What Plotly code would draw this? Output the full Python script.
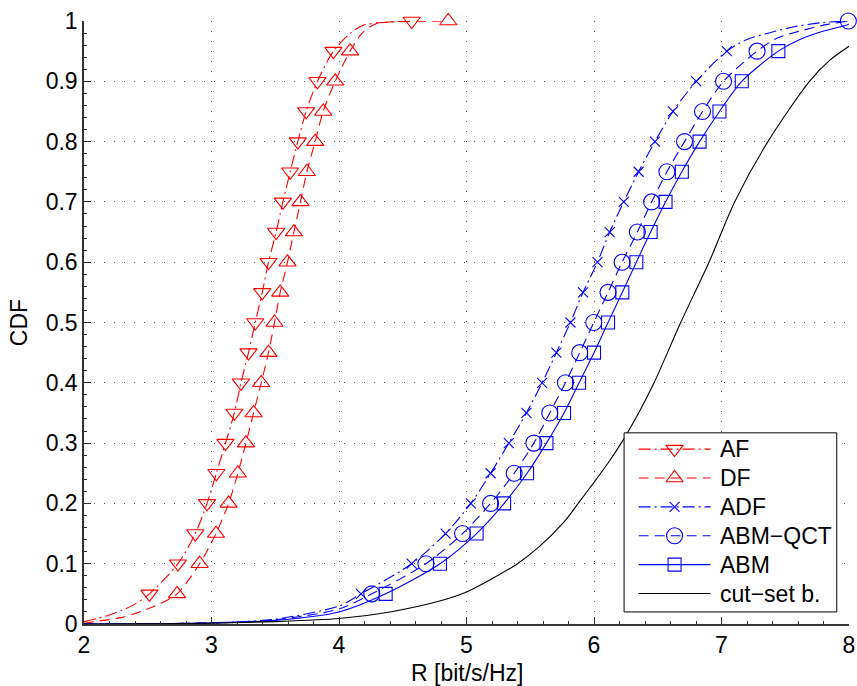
import plotly.graph_objects as go

# CDF levels at which the markers are drawn
levels = [0.05, 0.10, 0.15, 0.20, 0.25, 0.30, 0.35, 0.40, 0.45, 0.50,
          0.55, 0.60, 0.65, 0.70, 0.75, 0.80, 0.85, 0.90, 0.95, 1.00]

# Rate quantiles (bit/s/Hz) at those levels
af_x = [2.513, 2.737, 2.873, 2.965, 3.038, 3.110, 3.179, 3.231, 3.290, 3.343,
        3.398, 3.447, 3.507, 3.560, 3.617, 3.677, 3.742, 3.831, 3.956, 4.570]
df_x = [2.730, 2.907, 3.035, 3.134, 3.207, 3.270, 3.330, 3.390, 3.447, 3.494,
        3.539, 3.596, 3.646, 3.698, 3.748, 3.813, 3.876, 3.970, 4.087, 4.857]
adf_x = [4.173, 4.570, 4.836, 5.034, 5.189, 5.332, 5.470, 5.593, 5.705, 5.815,
         5.914, 6.027, 6.123, 6.233, 6.350, 6.478, 6.619, 6.802, 7.042]
qct_x = [4.257, 4.682, 4.969, 5.189, 5.374, 5.528, 5.653, 5.776, 5.888, 5.998,
         6.110, 6.220, 6.340, 6.452, 6.572, 6.710, 6.851, 7.016, 7.279, 7.995]
abm_x = [4.366, 4.792, 5.079, 5.295, 5.475, 5.627, 5.765, 5.883, 6.000, 6.110,
         6.222, 6.332, 6.444, 6.561, 6.689, 6.828, 6.984, 7.159, 7.446]

# Lower tails of each CDF (before the first marker)
af_tail_x = [2.0, 2.1, 2.2, 2.3, 2.4]
af_tail_y = [0.004, 0.009, 0.015, 0.023, 0.033]
df_tail_x = [2.0, 2.15, 2.3, 2.45, 2.6]
df_tail_y = [0.001, 0.006, 0.011, 0.021, 0.034]
adf_tail_x = [2.0, 2.5, 3.0, 3.5, 4.0]
adf_tail_y = [0.0, 0.0005, 0.002, 0.008, 0.030]
qct_tail_x = [2.0, 2.5, 3.0, 3.5, 4.0]
qct_tail_y = [0.0, 0.0004, 0.002, 0.007, 0.025]
abm_tail_x = [2.0, 2.5, 3.0, 3.5, 4.0]
abm_tail_y = [0.0, 0.0003, 0.0015, 0.006, 0.020]

# Upper tails (between the 0.95 marker and the end of the curve)
af_head_x = [4.09, 4.19, 4.375]
af_head_y = [0.980, 0.993, 0.998]
df_head_x = [4.19, 4.296, 4.48]
df_head_y = [0.982, 0.996, 0.999]
adf_head_x = [7.195, 7.35, 7.56, 7.77, 8.0]
adf_head_y = [0.969, 0.979, 0.990, 0.997, 1.0]
qct_head_x = [7.43, 7.61, 7.82]
qct_head_y = [0.971, 0.983, 0.994]
abm_head_x = [7.61, 7.795, 7.978, 8.0]
abm_head_y = [0.969, 0.983, 0.993, 0.995]

# Cut-set bound CDF
cut_x = [2.0, 2.5, 3.0, 3.5, 4.0, 4.4, 4.79, 5.0, 5.2, 5.4, 5.575, 5.76,
         5.876, 6.0, 6.12, 6.228, 6.35, 6.471, 6.68, 6.902, 7.103, 7.364,
         7.69, 7.85, 8.0]
cut_y = [0.0, 0.0005, 0.0015, 0.004, 0.009, 0.02, 0.038, 0.053, 0.075, 0.100,
         0.129, 0.168, 0.2, 0.235, 0.27, 0.305, 0.35, 0.4, 0.5, 0.6, 0.7, 0.8,
         0.9, 0.935, 0.958]

legend_names = ["AF", "DF", "ADF", "ABM\u2212QCT", "ABM", "cut\u2212set b."]

RED = "#ff0000"
BLUE = "#0000ff"
DASHDOT = "12px,4px,2px,4px"
DASHED = "10px,6px"
LW = 1.1
FS = 23
FONT = "Liberation Sans, Arial, sans-serif"

series = [
    (af_x, af_tail_x, af_tail_y, af_head_x, af_head_y, RED, DASHDOT, "triangle-down-open", 15),
    (df_x, df_tail_x, df_tail_y, df_head_x, df_head_y, RED, DASHED, "triangle-up-open", 15),
    (adf_x, adf_tail_x, adf_tail_y, adf_head_x, adf_head_y, BLUE, DASHDOT, "x-thin-open", 10),
    (qct_x, qct_tail_x, qct_tail_y, qct_head_x, qct_head_y, BLUE, DASHED, "circle-open", 16),
    (abm_x, abm_tail_x, abm_tail_y, abm_head_x, abm_head_y, BLUE, "solid", "square-open", 13),
]

fig = go.Figure()

styles = []
for mx, tx, ty, hx, hy, color, dash, symbol, size in series:
    my = levels[:len(mx)]
    # full curve: lower tail, marked quantiles up to 0.95, upper tail, end point
    line_x = tx + mx[:19] + hx + mx[19:]
    line_y = ty + my[:19] + hy + my[19:]
    line = dict(color=color, width=LW, dash=dash)
    marker = dict(symbol=symbol, size=size, color=color,
                  line=dict(color=color, width=LW))
    styles.append((line, marker))
    fig.add_trace(go.Scatter(
        x=line_x, y=line_y, mode="lines", showlegend=False, hoverinfo="skip",
        line=dict(line, shape="spline", smoothing=0.8),
    ))
    fig.add_trace(go.Scatter(
        x=mx, y=my, mode="markers", showlegend=False,
        marker=marker, cliponaxis=False,
    ))

fig.add_trace(go.Scatter(
    x=cut_x, y=cut_y, mode="lines", showlegend=False,
    line=dict(color="black", width=LW, shape="spline", smoothing=0.8),
))
styles.append((dict(color="black", width=LW, dash="solid"), None))

# Legend box drawn on an overlay axis spanning the plot area in [0, 1] units
box_x0, box_x1 = 0.706, 0.984
box_y0, box_y1 = 0.020, 0.317
sample_x0, sample_x1 = 0.725, 0.819
text_x = 0.829
row_top, row_step = 0.290, 0.0479

fig.add_trace(go.Scatter(
    x=[box_x0, box_x1, box_x1, box_x0, box_x0],
    y=[box_y0, box_y0, box_y1, box_y1, box_y0],
    mode="lines", fill="toself", fillcolor="white",
    line=dict(color="black", width=1), showlegend=False, hoverinfo="skip",
    xaxis="x2", yaxis="y2",
))
for k, (name, (line, marker)) in enumerate(zip(legend_names, styles)):
    ry = row_top - k * row_step
    fig.add_trace(go.Scatter(
        x=[sample_x0, sample_x1], y=[ry, ry], mode="lines", line=line,
        showlegend=False, hoverinfo="skip", xaxis="x2", yaxis="y2",
    ))
    if marker is not None:
        fig.add_trace(go.Scatter(
            x=[(sample_x0 + sample_x1) / 2], y=[ry], mode="markers", marker=marker,
            showlegend=False, hoverinfo="skip", xaxis="x2", yaxis="y2",
        ))
    fig.add_annotation(
        x=text_x, y=ry, xref="x2", yref="y2", text=name, showarrow=False,
        xanchor="left", yanchor="middle", font=dict(size=FS, color="black", family=FONT),
    )

# x-axis label placed below the tick labels
fig.add_annotation(
    x=0.5, y=-0.082, xref="paper", yref="paper", text="R [bit/s/Hz]",
    showarrow=False, xanchor="center", yanchor="middle",
    font=dict(size=FS, color="black", family=FONT),
)

axis_common = dict(
    showline=True, linecolor="#333333", linewidth=1.5, mirror=False,
    ticks="inside", ticklen=7, tickwidth=1, tickcolor="#333333",
    showgrid=True, gridcolor="#555555", gridwidth=1, griddash="1px,9px",
    zeroline=False, automargin=False,
    tickfont=dict(size=FS, color="black"),
    title_font=dict(size=FS, color="black"),
)

fig.update_xaxes(
    range=[2, 8], dtick=1, tick0=2,
    minor=dict(ticks="inside", ticklen=3, dtick=0.2, tickcolor="#333333", showgrid=False),
    **axis_common,
)
fig.update_yaxes(
    range=[0, 1], dtick=0.1, tick0=0,
    minor=dict(ticks="inside", ticklen=3, dtick=0.02, tickcolor="#333333", showgrid=False),
    title_text="CDF", title_standoff=12,
    **axis_common,
)

fig.update_layout(
    width=857, height=686,
    margin=dict(l=84, r=8, t=21, b=62),
    paper_bgcolor="white", plot_bgcolor="white",
    font=dict(family=FONT, size=FS, color="black"),
    showlegend=False,
    xaxis2=dict(overlaying="x", range=[0, 1], visible=False, fixedrange=True),
    yaxis2=dict(overlaying="y", range=[0, 1], visible=False, fixedrange=True),
)

fig.write_html("out.html")
